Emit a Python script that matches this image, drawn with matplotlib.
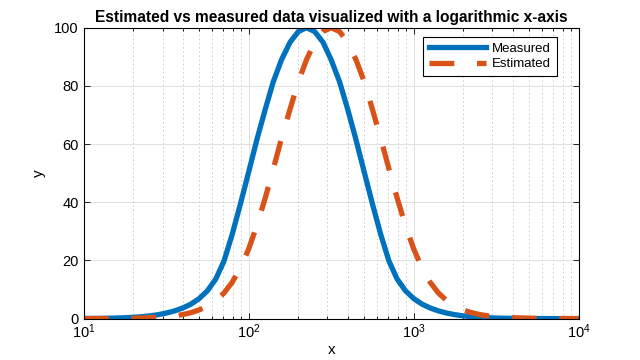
import matplotlib
matplotlib.use("Agg")
import matplotlib.pyplot as plt
from matplotlib.ticker import LogLocator, NullFormatter

plt.rcParams['font.family'] = ['Liberation Sans', 'DejaVu Sans']

# sample points (log-spaced)
x = [10, 11.2, 12.6, 14.1, 15.8, 17.8, 20.0, 22.4, 25.1, 28.2,
     31.6, 35.5, 39.8, 44.7, 50.1, 56.2, 63.1, 70.8, 79.4, 89.1,
     100, 112, 126, 141, 158, 178, 200, 224, 251, 282,
     316, 355, 398, 447, 501, 562, 631, 708, 794, 891,
     1000, 1122, 1259, 1413, 1585, 1778, 1995, 2239, 2512, 2818,
     3162, 3548, 3981, 4467, 5012, 5623, 6310, 7079, 7943, 8913, 10000]

measured = [0.03, 0.05, 0.08, 0.13, 0.2, 0.3, 0.45, 0.65, 0.95, 1.35,
            1.9, 2.65, 3.65, 5.0, 6.9, 9.6, 13.6, 19.8, 29.0, 39.5,
            50.5, 61.5, 72, 81.5, 89, 95, 98.7, 100, 98.7, 95,
            89, 81.5, 72, 61.5, 50.5, 39.5, 29.0, 19.8, 13.6, 9.6,
            6.9, 5.0, 3.65, 2.65, 1.9, 1.35, 0.95, 0.65, 0.45, 0.3,
            0.2, 0.13, 0.08, 0.05, 0.03, 0.02, 0.01, 0.0, 0.0, 0.0, 0.0]

estimated = [0.01, 0.01, 0.02, 0.03, 0.05, 0.08, 0.13, 0.2, 0.3, 0.45,
             0.65, 0.95, 1.4, 2.05, 3.0, 4.3, 6.2, 8.8, 12.5, 17.5,
             24, 32, 41.5, 51.5, 62, 72, 81.5, 89, 95, 98.7,
             100, 98.7, 95, 89, 81.5, 72, 62, 51.5, 41.5, 32,
             24, 17.5, 12.5, 8.8, 6.2, 4.3, 3.0, 2.05, 1.4, 0.95,
             0.65, 0.45, 0.3, 0.2, 0.13, 0.08, 0.05, 0.03, 0.02, 0.01, 0.01]

fig = plt.figure(figsize=(6.4, 3.6), dpi=100)
ax = fig.add_axes([0.131, 0.115, 0.773, 0.808])

ax.plot(x, measured, color='#0072BD', lw=3.8, solid_joinstyle='round',
        label='Measured')
ax.plot(x, estimated, color='#D95319', lw=3.8, ls=(0, (4.7, 4.3)),
        dash_joinstyle='round', label='Estimated')

ax.set_xscale('log')
ax.set_xlim(10, 10000)
ax.set_ylim(0, 100)
ax.set_yticks([0, 20, 40, 60, 80, 100])
ax.xaxis.set_major_locator(LogLocator(base=10, numticks=10))
ax.xaxis.set_minor_locator(LogLocator(base=10, subs=range(2, 10), numticks=20))
ax.xaxis.set_minor_formatter(NullFormatter())

ax.grid(True, which='major', color='#dcdcdc', lw=0.6, ls='-')
ax.grid(True, which='minor', axis='x', color='#c8c8c8', lw=0.6, ls=(0, (2, 3)))
ax.set_axisbelow(True)

ax.tick_params(which='both', direction='in', top=True, right=True,
               labelsize=10.5, width=0.6, colors='black')
ax.tick_params(which='major', length=4)
ax.tick_params(which='minor', length=2)
ax.tick_params(axis='x', pad=3)
for s in ax.spines.values():
    s.set_linewidth(0.8)

ax.set_xlabel('x', fontsize=11, labelpad=1)
ax.set_ylabel('y', fontsize=11, labelpad=6)
ax.set_title('Estimated vs measured data visualized with a logarithmic x-axis',
             fontsize=11.2, fontweight='bold', pad=4)

leg = ax.legend(loc='upper right', bbox_to_anchor=(0.9556, 0.969), borderaxespad=0,
                fancybox=False, edgecolor='black', framealpha=1, fontsize=9.5,
                handlelength=4.3, handletextpad=0.45, borderpad=0.45,
                labelspacing=0.25)
leg.get_frame().set_linewidth(0.8)

fig.savefig('out.png', dpi=100)
